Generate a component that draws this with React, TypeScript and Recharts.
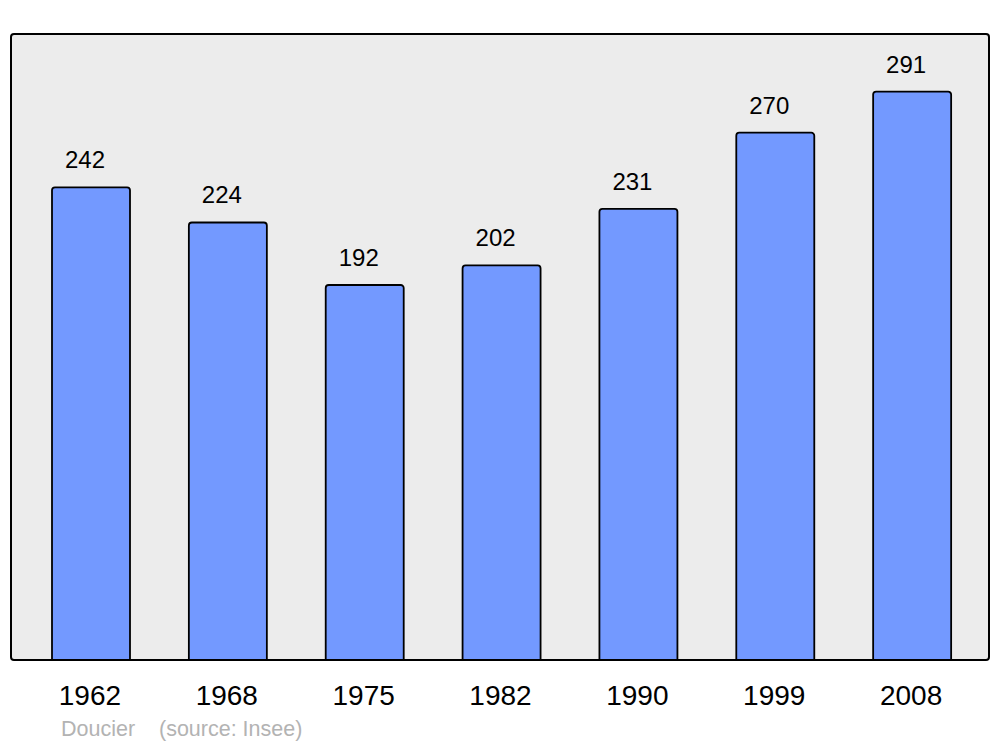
import React from 'react';
import { BarChart, Bar, XAxis, YAxis, CartesianGrid, LabelList } from 'recharts';

const years = ['1962', '1968', '1975', '1982', '1990', '1999', '2008'];
const population = [242, 224, 192, 202, 231, 270, 291];

const data = years.map((year, i) => ({ year, population: population[i] }));

const font = '"Liberation Sans", Arial, sans-serif';

const ValueLabel = (props: any) => {
  const { x, y, width, value } = props;
  return (
    <text x={x + width / 2 - 6} y={y - 19} textAnchor="middle" fontSize={24} fontFamily={font} fill="#000">
      {value}
    </text>
  );
};

const App: React.FC = () => {
  return (
    <div style={{ position: 'absolute', left: 0, top: 0, width: 1000, height: 747, background: '#fff', fontFamily: font }}>
      <BarChart width={1000} height={747} data={data} margin={{ top: 34, right: 11, left: 11, bottom: 57 }}>
        <CartesianGrid fill="#ececec" horizontal={false} vertical={false} />
        <XAxis
          dataKey="year"
          axisLine={false}
          tickLine={false}
          tickSize={0}
          tickMargin={25}
          height={30}
          padding={{ left: 12, right: 8 }}
          tick={{ fontSize: 28, fill: '#000', fontFamily: font, dx: -1.5 }}
          interval={0}
        />
        <YAxis hide domain={[0, 320.5]} />
        <Bar
          dataKey="population"
          fill="#7399ff"
          stroke="#000"
          strokeWidth={1.8}
          barSize={78}
          radius={[3, 3, 0, 0]}
          isAnimationActive={false}
        >
          <LabelList dataKey="population" content={ValueLabel} />
        </Bar>
      </BarChart>
      <div
        style={{
          position: 'absolute',
          left: 9.75,
          top: 32.75,
          width: 980.5,
          height: 628.5,
          border: '2.5px solid #000',
          borderRadius: 4,
          boxSizing: 'border-box',
          pointerEvents: 'none',
        }}
      />
      <div style={{ position: 'absolute', left: 61, top: 717, fontSize: 21.5, color: '#b3b3b3', whiteSpace: 'pre' }}>
        {'Doucier    (source: Insee)'}
      </div>
    </div>
  );
};

export default App;
